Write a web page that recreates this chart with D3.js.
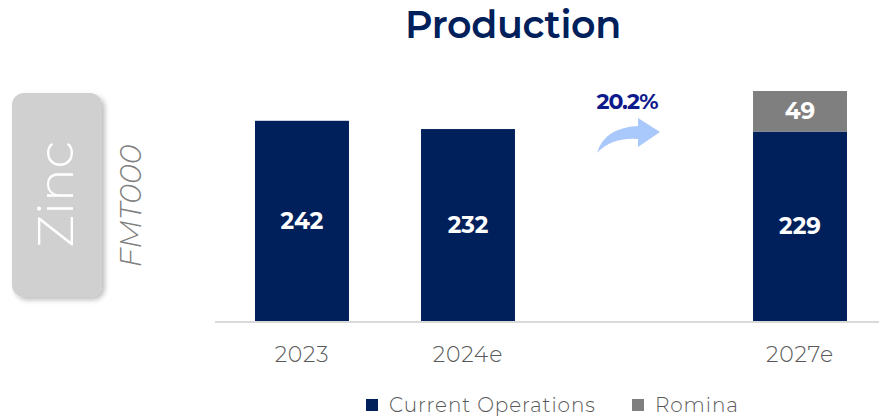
<!DOCTYPE html>
<html>
<head>
<meta charset="utf-8">
<script src="https://cdn.jsdelivr.net/npm/d3@7/dist/d3.min.js"></script>
<style>
  html, body { margin: 0; padding: 0; background: #ffffff; }
  svg { display: block; }
  text { font-family: "Montserrat", "Noto Sans", "Open Sans", sans-serif; }
</style>
</head>
<body>
<svg id="chart" width="879" height="418"></svg>
<script>
// Zinc production, thousand tonnes of metal (FMT000)
const categories = ["2023", "2024e", "gap", "2027e"];
const currentOps = [242, 232, null, 229];
const romina     = [0, 0, null, 49];
const growthLabel = "20.2%";
const seriesNames = ["Current Operations", "Romina"];
const seriesColors = ["#00205b", "#7f7f7f"];

const svg = d3.select("#chart");
const W = 879, H = 418;

// Title
svg.append("text")
  .attr("x", 513).attr("y", 38)
  .attr("text-anchor", "middle")
  .attr("fill", "#00205b")
  .attr("font-size", 38).attr("font-weight", 600)
  .attr("letter-spacing", -0.3)
  .text("Production");

// Scales
const x = d3.scaleBand()
  .domain(categories)
  .range([215, 887])
  .paddingInner(0.434)
  .paddingOuter(0.241);

const baseY = 321;
const y = d3.scaleLinear().domain([0, 278]).range([baseY, 91]);

// Stacked bars
const rows = categories.map((c, i) => ({ cat: c, current: currentOps[i], romina: romina[i] }))
  .filter(d => d.current !== null);

const stack = d3.stack().keys(["current", "romina"]);
const layers = stack(rows);

svg.append("g").selectAll("g")
  .data(layers)
  .join("g")
  .attr("fill", (d, i) => seriesColors[i])
  .selectAll("rect")
  .data(d => d.filter(s => s[1] - s[0] > 0))
  .join("rect")
  .attr("x", d => x(d.data.cat))
  .attr("width", x.bandwidth())
  .attr("y", d => y(d[1]))
  .attr("height", d => y(d[0]) - y(d[1]));

// Value labels
layers.forEach(layer => {
  svg.append("g").selectAll("text")
    .data(layer.filter(s => s[1] - s[0] > 0))
    .join("text")
    .attr("x", d => x(d.data.cat) + x.bandwidth() / 2)
    .attr("y", d => (y(d[0]) + y(d[1])) / 2 + 8)
    .attr("text-anchor", "middle")
    .attr("fill", "#ffffff")
    .attr("font-size", 23).attr("font-weight", 700)
    .text(d => d[1] - d[0]);
});

// Category axis
const axis = d3.axisBottom(x)
  .tickSize(0)
  .tickPadding(25)
  .tickFormat(d => d === "gap" ? "" : d);

const gx = svg.append("g").attr("transform", `translate(0,${baseY})`).call(axis);
gx.select(".domain").remove();
gx.selectAll("text")
  .attr("fill", "#595959")
  .attr("font-size", 22)
  .attr("letter-spacing", 0.8)
  .attr("font-weight", 300)
  .attr("font-family", "Montserrat, 'Noto Sans', sans-serif");
svg.append("line")
  .attr("x1", 215).attr("x2", W)
  .attr("y1", baseY + 1).attr("y2", baseY + 1)
  .attr("stroke", "#d9d9d9").attr("stroke-width", 2);

// Growth arrow and label
svg.append("path")
  .attr("d", "M597,153 Q604,128 638,126 L638,118 L660,132 L638,147 L638,139 Q612,137 597,153 Z")
  .attr("fill", "#a9c8fb");
svg.append("text")
  .attr("x", 627).attr("y", 109)
  .attr("text-anchor", "middle")
  .attr("fill", "#0d1a8c")
  .attr("font-size", 22).attr("font-weight", 700)
  .attr("letter-spacing", -1)
  .text(growthLabel);

// Side panel: metal tag and unit
const defs = svg.append("defs");
const f = defs.append("filter").attr("id", "shadow").attr("x", "-20%").attr("y", "-20%").attr("width", "150%").attr("height", "150%");
f.append("feDropShadow").attr("dx", 3).attr("dy", 3).attr("stdDeviation", 2.5).attr("flood-color", "#000").attr("flood-opacity", 0.25);

svg.append("rect")
  .attr("x", 12).attr("y", 93).attr("width", 90).attr("height", 204)
  .attr("rx", 12).attr("ry", 12)
  .attr("fill", "#d0d0d0")
  .attr("filter", "url(#shadow)");

svg.append("text")
  .attr("transform", "translate(73,194) rotate(-90)")
  .attr("text-anchor", "middle")
  .attr("fill", "#ffffff")
  .attr("font-size", 50).attr("font-weight", 300)
  .text("Zinc");

svg.append("text")
  .attr("transform", "translate(141,206) rotate(-90)")
  .attr("text-anchor", "middle")
  .attr("fill", "#7f7f7f")
  .attr("font-size", 30).attr("font-style", "italic").attr("font-weight", 300)
  .text("FMT000");

// Legend
const legend = svg.append("g");
const legendItems = [
  { name: seriesNames[0], color: seriesColors[0], x: 366 },
  { name: seriesNames[1], color: seriesColors[1], x: 632 }
];
legendItems.forEach(d => {
  legend.append("rect").attr("x", d.x).attr("y", 399).attr("width", 12).attr("height", 12).attr("fill", d.color);
  legend.append("text").attr("x", d.x + 23).attr("y", 412)
    .attr("fill", "#595959").attr("font-size", 20).attr("letter-spacing", 0.9)
    .attr("font-weight", 300)
    .text(d.name);
});
</script>
</body>
</html>
